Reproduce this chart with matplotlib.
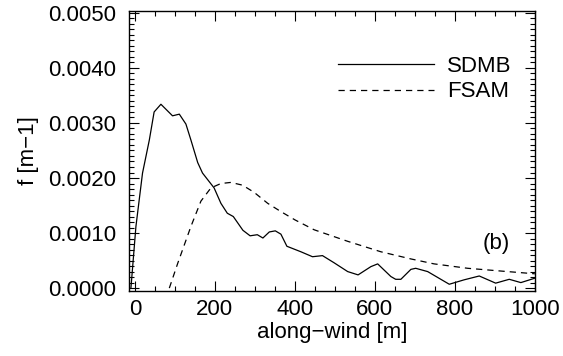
import numpy as np
import matplotlib
matplotlib.use("Agg")
from matplotlib import pyplot as plt
from matplotlib.ticker import MultipleLocator, FormatStrFormatter

# SDMB footprint (solid)
sdmb_x = [-10, 2.5, 19, 36, 48, 65, 94, 111, 127.5, 140, 157, 169, 198, 215,
          231, 246, 270, 288, 306, 320, 336, 351, 365, 380, 415, 444, 469,
          498, 532, 558, 590, 607, 640, 652, 665, 690, 702, 732, 786, 823,
          861, 902, 936, 965, 1000]
sdmb_y = [0.0, 1.12, 2.09, 2.69, 3.20, 3.34, 3.13, 3.16, 2.98, 2.69, 2.28,
          2.09, 1.82, 1.54, 1.36, 1.30, 1.05, 0.95, 0.97, 0.91, 1.02, 1.04,
          0.98, 0.76, 0.66, 0.57, 0.59, 0.46, 0.30, 0.24, 0.39, 0.44, 0.21,
          0.16, 0.16, 0.34, 0.36, 0.30, 0.07, 0.15, 0.22, 0.09, 0.16, 0.10,
          0.18]

# FSAM footprint (dashed)
fsam_x = [86, 107, 140, 165, 190, 215, 240, 269, 298, 332, 365, 400, 448,
          532, 615, 690, 748, 832, 915, 1000]
fsam_y = [0.0, 0.45, 1.12, 1.58, 1.82, 1.90, 1.92, 1.87, 1.74, 1.54, 1.39,
          1.24, 1.06, 0.85, 0.66, 0.53, 0.44, 0.36, 0.31, 0.26]

sdmb_y = np.array(sdmb_y) * 1e-3
fsam_y = np.array(fsam_y) * 1e-3

plt.rcParams["font.family"] = ["Liberation Sans", "DejaVu Sans"]
plt.rcParams["font.size"] = 16

fig = plt.figure(figsize=(5.63, 3.56), dpi=100)
ax = fig.add_axes([0.229, 0.183, 0.721, 0.787])

ax.plot(sdmb_x, sdmb_y, color="black", lw=0.9, label="SDMB")
ax.plot(fsam_x, fsam_y, color="black", lw=0.9, dashes=(5, 4), label="FSAM")

ax.set_xlim(-15, 1000)
ax.set_ylim(-0.00005, 0.00504)

ax.xaxis.set_major_locator(MultipleLocator(200))
ax.xaxis.set_minor_locator(MultipleLocator(50))
ax.yaxis.set_major_locator(MultipleLocator(0.001))
ax.yaxis.set_minor_locator(MultipleLocator(0.0001))
ax.yaxis.set_major_formatter(FormatStrFormatter("%.4f"))

ax.tick_params(which="both", direction="in", top=True, right=True,
               width=0.8, color="black")
ax.tick_params(which="major", length=7)
ax.tick_params(which="minor", length=3.5)
ax.tick_params(axis="x", pad=6)
ax.tick_params(axis="y", pad=9)
for s in ax.spines.values():
    s.set_linewidth(1.0)

ax.set_xlabel("along\u2212wind [m]", labelpad=1)
ax.set_ylabel("f [m\u22121]", labelpad=7)

ax.legend(loc="upper right", bbox_to_anchor=(0.965, 0.87), frameon=False,
          handlelength=4.3, handletextpad=0.6, labelspacing=0.2,
          borderaxespad=0)
ax.text(0.905, 0.17, "(b)", transform=ax.transAxes, ha="center", va="center")

fig.savefig("out.png", dpi=100)
